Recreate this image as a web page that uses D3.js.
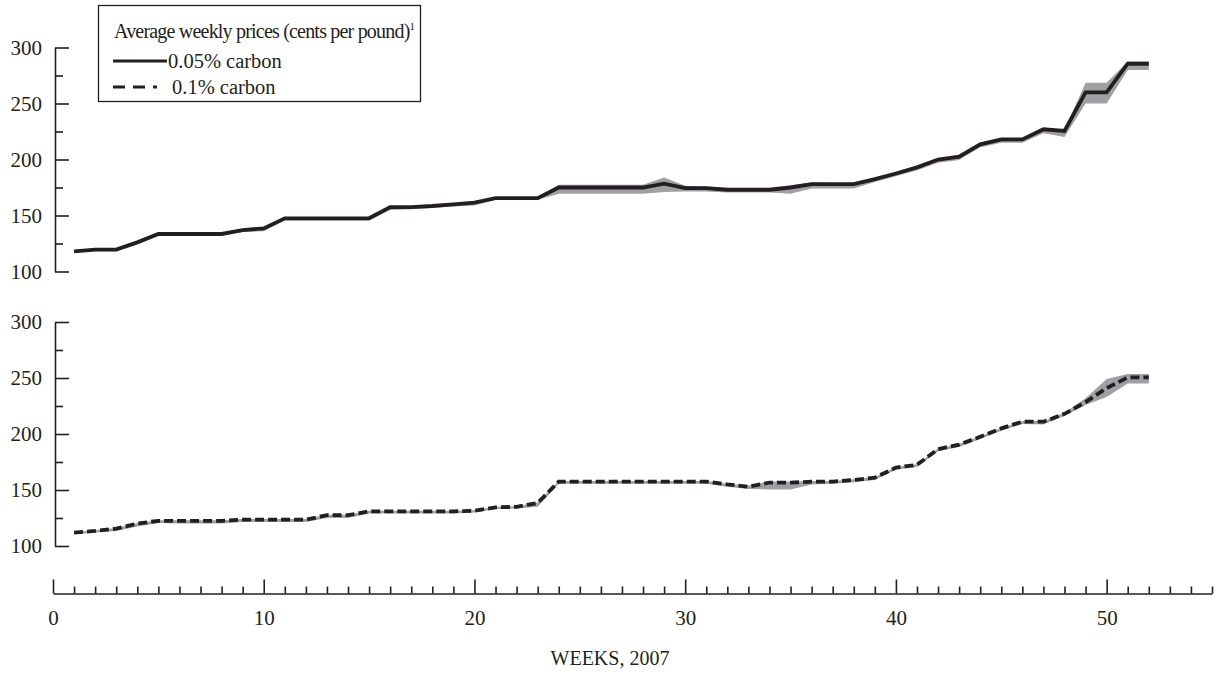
<!DOCTYPE html>
<html>
<head>
<meta charset="utf-8">
<script src="https://cdn.jsdelivr.net/npm/d3@7"></script>
<style>
  body { margin: 0; background: #fff; }
  text { font-family: "Liberation Serif", "Times New Roman", serif; fill: #231f20; }
</style>
</head>
<body>
<div id="chart"></div>
<script>
// weeks of 2007
var weeks = [1, 2, 3, 4, 5, 6, 7, 8, 9, 10, 11, 12, 13, 14, 15, 16, 17, 18, 19, 20,
  21, 22, 23, 24, 25, 26, 27, 28, 29, 30, 31, 32, 33, 34, 35, 36, 37, 38, 39, 40,
  41, 42, 43, 44, 45, 46, 47, 48, 49, 50, 51, 52]

// 0.05% carbon, cents per pound (average, low, high)
var carbon005 = [118, 119.5, 119.5, 126, 133.5, 133.5, 133.5, 133.5, 137, 138.5,
  147.5, 147.5, 147.5, 147.5, 147.5, 157.5, 157.5, 158.5, 160, 161.5,
  165.5, 165.5, 165.5, 175, 175, 175, 175, 175, 178.5, 174.5,
  174.5, 173, 173, 173, 175, 178, 178, 178, 182.5, 187.5,
  193, 200, 202.5, 213.5, 218, 218, 227, 225.5, 260, 260, 285.5, 285.5]
var carbon005Low = [117, 118, 118, 124.5, 132, 132, 132, 132, 135.5, 136,
  145.5, 145.5, 145.5, 145.5, 145.5, 155, 155.5, 157, 158, 159,
  164, 164, 164, 169.5, 169.5, 169.5, 169.5, 169.5, 171, 171.5,
  171.5, 170.5, 170.5, 170.5, 169.5, 174, 174, 174, 180, 185,
  190.5, 197, 199.5, 211, 215, 215, 223.5, 220, 250, 250, 280, 280]
var carbon005High = [118.5, 120, 120, 126.5, 134, 134, 134, 134, 137.5, 139,
  148, 148, 148, 148, 148, 158, 158, 159, 160.5, 162,
  166, 166, 166, 177.5, 177.5, 177.5, 177.5, 177.5, 184, 176.5,
  176, 174.5, 174.5, 174.5, 177, 179.5, 179, 179, 183.5, 188.5,
  194, 201, 203.5, 214.5, 219, 219, 228, 226.5, 268.5, 268.5, 287.5, 287.5]

// 0.1% carbon
var carbon01 = [112, 113.5, 115.5, 120, 122.5, 122.5, 122.5, 122.5, 123.5, 123.5,
  123.5, 123.5, 127.5, 127.5, 131, 131, 131, 131, 131, 131.5,
  134.5, 135, 138.5, 157.5, 157.5, 157.5, 157.5, 157.5, 157.5, 157.5,
  157.5, 155, 153, 156.5, 156.5, 157.5, 157.5, 159, 161, 170,
  172.5, 186.5, 190.5, 197.5, 205, 211, 211, 218, 228.5, 241, 250.5, 250.5]
var carbon01Low = [110.5, 112, 113.5, 117.5, 120.5, 120, 120, 120, 121.5, 121.5,
  121.5, 121.5, 125, 125, 129, 129, 129, 129, 129, 130,
  133, 133.5, 135, 155.5, 155.5, 155.5, 155.5, 155.5, 155.5, 155.5,
  155.5, 153, 151, 150.5, 150.5, 155, 155.5, 157, 159, 168,
  170.5, 184.5, 188.5, 195.5, 203, 209, 208.5, 216, 226, 233, 245, 245]
var carbon01High = [112.5, 114, 116, 120.5, 123, 123, 123, 123, 124, 124,
  124, 124, 128, 128, 131.5, 131.5, 131.5, 131.5, 131.5, 132,
  135, 135.5, 139, 158, 158, 158, 158, 158, 158, 158,
  158, 155.5, 154, 157.5, 157.5, 158, 158, 159.5, 161.5, 170.5,
  173, 187, 191, 198, 205.5, 211.5, 211.5, 219, 232, 249, 253.5, 253.5]

var yTicks = [100, 150, 200, 250, 300]
var yMinorTicks = [125, 175, 225, 275]
var xTicks = [0, 10, 20, 30, 40, 50]
var xMinorTicks = [1, 2, 3, 4, 5, 6, 7, 8, 9, 11, 12, 13, 14, 15, 16, 17, 18, 19,
  21, 22, 23, 24, 25, 26, 27, 28, 29, 31, 32, 33, 34, 35, 36, 37, 38, 39,
  41, 42, 43, 44, 45, 46, 47, 48, 49, 51, 52, 53, 54, 55]

var width = 1218
var height = 677
var ink = '#231f20'
var bandColor = '#9fa0a3'

var svg = d3
  .select('#chart')
  .append('svg')
  .attr('width', width)
  .attr('height', height)

var x = d3.scaleLinear().domain([0, 55]).range([53, 1212])
var yTop = d3.scaleLinear().domain([100, 300]).range([271.5, 47.5])
var yBottom = d3.scaleLinear().domain([100, 300]).range([546, 322])

function styleAxis(g) {
  g.selectAll('path, line').attr('stroke', ink).attr('stroke-width', 1.6)
  g.selectAll('text')
    .attr('font-size', 21)
    .attr('fill', ink)
    .attr('font-family', '"Liberation Serif", "Times New Roman", serif')
}

// two stacked panels, each with its own y axis
var panels = [
  { y: yTop, avg: carbon005, low: carbon005Low, high: carbon005High, dash: null },
  { y: yBottom, avg: carbon01, low: carbon01Low, high: carbon01High, dash: '9,4' }
]

panels.forEach(p => {
  var g = svg.append('g')

  g.append('g')
    .attr('transform', `translate(${x(0) + 2},0)`)
    .call(d3.axisLeft(p.y).tickValues(yTicks).tickSize(-14).tickSizeOuter(0).tickPadding(13))
    .call(styleAxis)

  g.append('g')
    .attr('transform', `translate(${x(0) + 2},0)`)
    .call(d3.axisLeft(p.y).tickValues(yMinorTicks).tickSize(-8).tickFormat(''))
    .call(styleAxis)
    .call(a => a.select('.domain').remove())

  var area = d3
    .area()
    .x((d, i) => x(weeks[i]))
    .y0((d, i) => p.y(p.low[i]))
    .y1((d, i) => p.y(p.high[i]))

  var line = d3
    .line()
    .x((d, i) => x(weeks[i]))
    .y(d => p.y(d))

  g.append('path')
    .datum(p.avg)
    .attr('d', area)
    .attr('fill', bandColor)

  g.append('path')
    .datum(p.avg)
    .attr('d', line)
    .attr('fill', 'none')
    .attr('stroke', ink)
    .attr('stroke-width', 3.8)
    .attr('stroke-dasharray', p.dash)
})

// shared week axis at the bottom, ticks pointing up
var xAxisY = 593.5
svg.append('g')
  .attr('transform', `translate(0,${xAxisY})`)
  .call(d3.axisBottom(x).tickValues(xTicks).tickSize(-14).tickSizeOuter(0).tickPadding(17))
  .call(styleAxis)

svg.append('g')
  .attr('transform', `translate(0,${xAxisY})`)
  .call(d3.axisBottom(x).tickValues(xMinorTicks).tickSize(-7).tickFormat(''))
  .call(styleAxis)
  .call(a => a.select('.domain').remove())

svg.append('text')
  .attr('x', 610)
  .attr('y', 665)
  .attr('text-anchor', 'middle')
  .attr('font-size', 20)
  .text('WEEKS, 2007')

// legend
var legend = svg.append('g')
legend.append('rect')
  .attr('x', 98.5)
  .attr('y', 5.5)
  .attr('width', 322)
  .attr('height', 96)
  .attr('fill', '#fff')
  .attr('stroke', ink)
  .attr('stroke-width', 1.3)

var title = legend.append('text')
  .attr('x', 114)
  .attr('y', 38)
  .attr('font-size', 20)
  .attr('letter-spacing', -0.8)
  .text('Average weekly prices (cents per pound)')
title.append('tspan')
  .attr('dy', -8)
  .attr('font-size', 11)
  .attr('letter-spacing', 0)
  .text('1')

var legendRows = [
  { label: '0.05% carbon', dash: null, y: 61, len: 54 },
  { label: '0.1% carbon', dash: '12,8', y: 87, len: 44 }
]
legendRows.forEach(r => {
  legend.append('line')
    .attr('x1', 113)
    .attr('x2', 113 + r.len)
    .attr('y1', r.y)
    .attr('y2', r.y)
    .attr('stroke', ink)
    .attr('stroke-width', 3)
    .attr('stroke-dasharray', r.dash)
  legend.append('text')
    .attr('x', r.dash ? 172 : 168)
    .attr('y', r.y + 7)
    .attr('font-size', 20.5)
    .text(r.label)
})
</script>
</body>
</html>
